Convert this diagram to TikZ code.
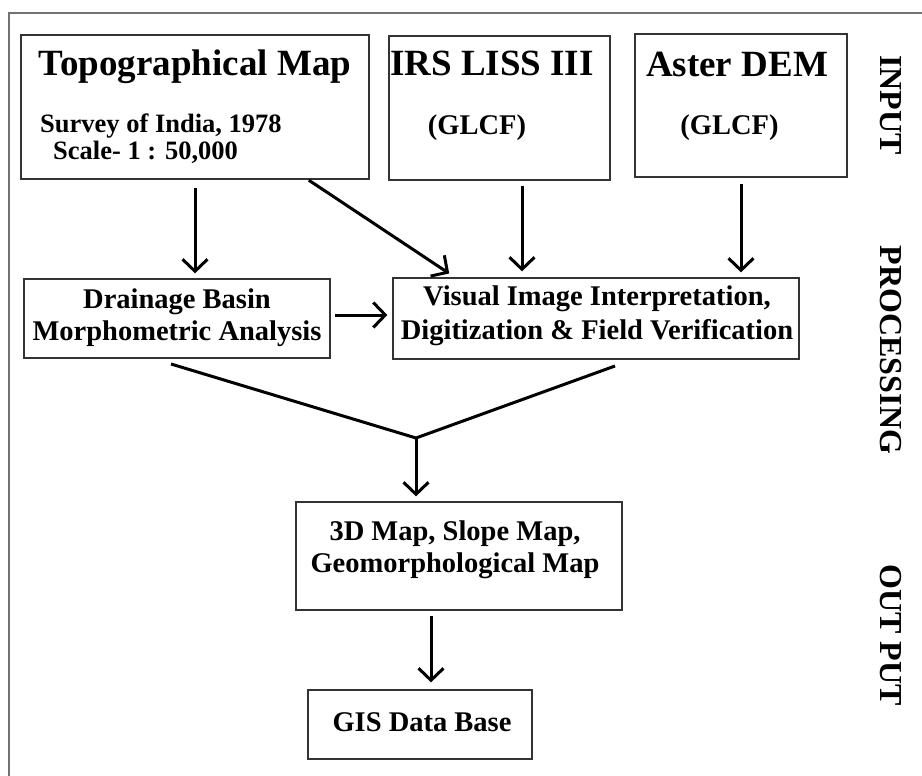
\documentclass[tikz,border=0pt]{standalone}
\usepackage{fontspec}
\setmainfont{Liberation Serif}
\usetikzlibrary{arrows.meta,calc}

% font sizes used in the chart
\newcommand{\titlesize}{\fontsize{37}{40}\selectfont\bfseries}
\newcommand{\subsize}{\fontsize{26.5}{30}\selectfont\bfseries}
\newcommand{\glcfsize}{\fontsize{28.5}{32}\selectfont\bfseries}
\newcommand{\boxsize}{\fontsize{28.5}{32}\selectfont\bfseries}
\newcommand{\sidesize}{\fontsize{32}{34}\selectfont\bfseries}

\tikzset{
  box/.style={draw=black!80, line width=1.3pt, rectangle, inner sep=0pt},
  txt/.style={inner sep=0pt, anchor=base},
  side/.style={inner sep=0pt, rotate=-90, font=\sidesize},
  arr/.style={line width=3pt, -{Straight Barb[length=12pt,width=25pt,line width=3pt]}},
  link/.style={line width=3pt},
  frame/.style={draw=black!55, line width=2pt}
}

\begin{document}
\begin{tikzpicture}[x=1pt, y=-1pt]
\useasboundingbox (0,0) rectangle (922,776);

% outer frame (top and left edges)
\draw[frame] (9,776) -- (9,13) -- (922,13);

% ---- input boxes ----
\node[box, minimum width=348pt, minimum height=144pt] (topo)   at (195,107)   {};
\node[box, minimum width=221pt, minimum height=144pt] (irs)    at (499.5,108) {};
\node[box, minimum width=212pt, minimum height=143pt] (aster)  at (741,105.5) {};

\node[txt] (topoT) at (195,76) {\titlesize Topographical Map};
\node[txt, anchor=base west] (topoA) at (40,132) {\subsize Survey of India, 1978};
\node[txt, anchor=base west] (topoB) at (53,160) {\subsize Scale- 1 : 50,000};

\node[txt] (irsT) at (492,76)  {\titlesize IRS LISS III};
\node[txt] (irsG) at (477,135) {\glcfsize (GLCF)};

\node[txt] (asterT) at (737,77)  {\titlesize Aster DEM};
\node[txt] (asterG) at (729.5,135) {\glcfsize (GLCF)};

% ---- processing boxes ----
\node[box, minimum width=306pt, minimum height=79pt] (drain)  at (177,318.5) {};
\node[box, minimum width=406pt, minimum height=81pt] (visual) at (596,318.5) {};

\node[txt] (drainA) at (177,308) {\boxsize Drainage Basin};
\node[txt] (drainB) at (177,340) {\boxsize Morphometric Analysis};

\node[txt] (visA) at (597,305) {\boxsize Visual Image Interpretation,};
\node[txt] (visB) at (597,339) {\boxsize Digitization \& Field Verification};

% ---- output boxes ----
\node[box, minimum width=326pt, minimum height=108pt] (map3d) at (459,556)   {};
\node[box, minimum width=224pt, minimum height=69pt]  (gis)   at (420,724.5) {};

\node[txt] (mapA) at (455,540) {\boxsize 3D Map, Slope Map,};
\node[txt] (mapB) at (455,572) {\boxsize Geomorphological Map};

\node[txt] (gisT) at (422,731) {\boxsize GIS Data Base};

% ---- stage labels ----
\node[side] (lin)  at (891,105) {INPUT};
\node[side] (lpro) at (891,350) {PROCESSING};
\node[side] (lout) at (891,635) {OUT PUT};

% ---- connectors ----
\draw[arr, shorten <=8pt, shorten >=5pt] (topo.south) -- (topo.south |- drain.north);
\draw[arr, shorten <=1pt, shorten >=7pt] (308,0 |- topo.south) -- (455,0 |- visual.north);
\draw[arr, shorten <=5pt, shorten >=6pt] (522,0 |- irs.south) -- (522,0 |- visual.north);
\draw[arr, shorten <=6pt, shorten >=5pt] (aster.south) -- (aster.south |- visual.north);
\draw[arr, shorten <=4pt, shorten >=5pt] ([yshift=3.5pt]drain.east) -- ([yshift=3.5pt]drain.east -| visual.west);

\coordinate (lstart) at (171,364);
\coordinate (rstart) at (615,366);
\coordinate (join)   at (416,438);
\draw[link, line join=miter] (lstart) -- (join) -- (rstart);
\draw[arr, shorten >=5pt] (join) -- (join |- map3d.north);

\draw[arr, shorten <=5pt, shorten >=7pt] (431,0 |- map3d.south) -- (431,0 |- gis.north);
\end{tikzpicture}
\end{document}
